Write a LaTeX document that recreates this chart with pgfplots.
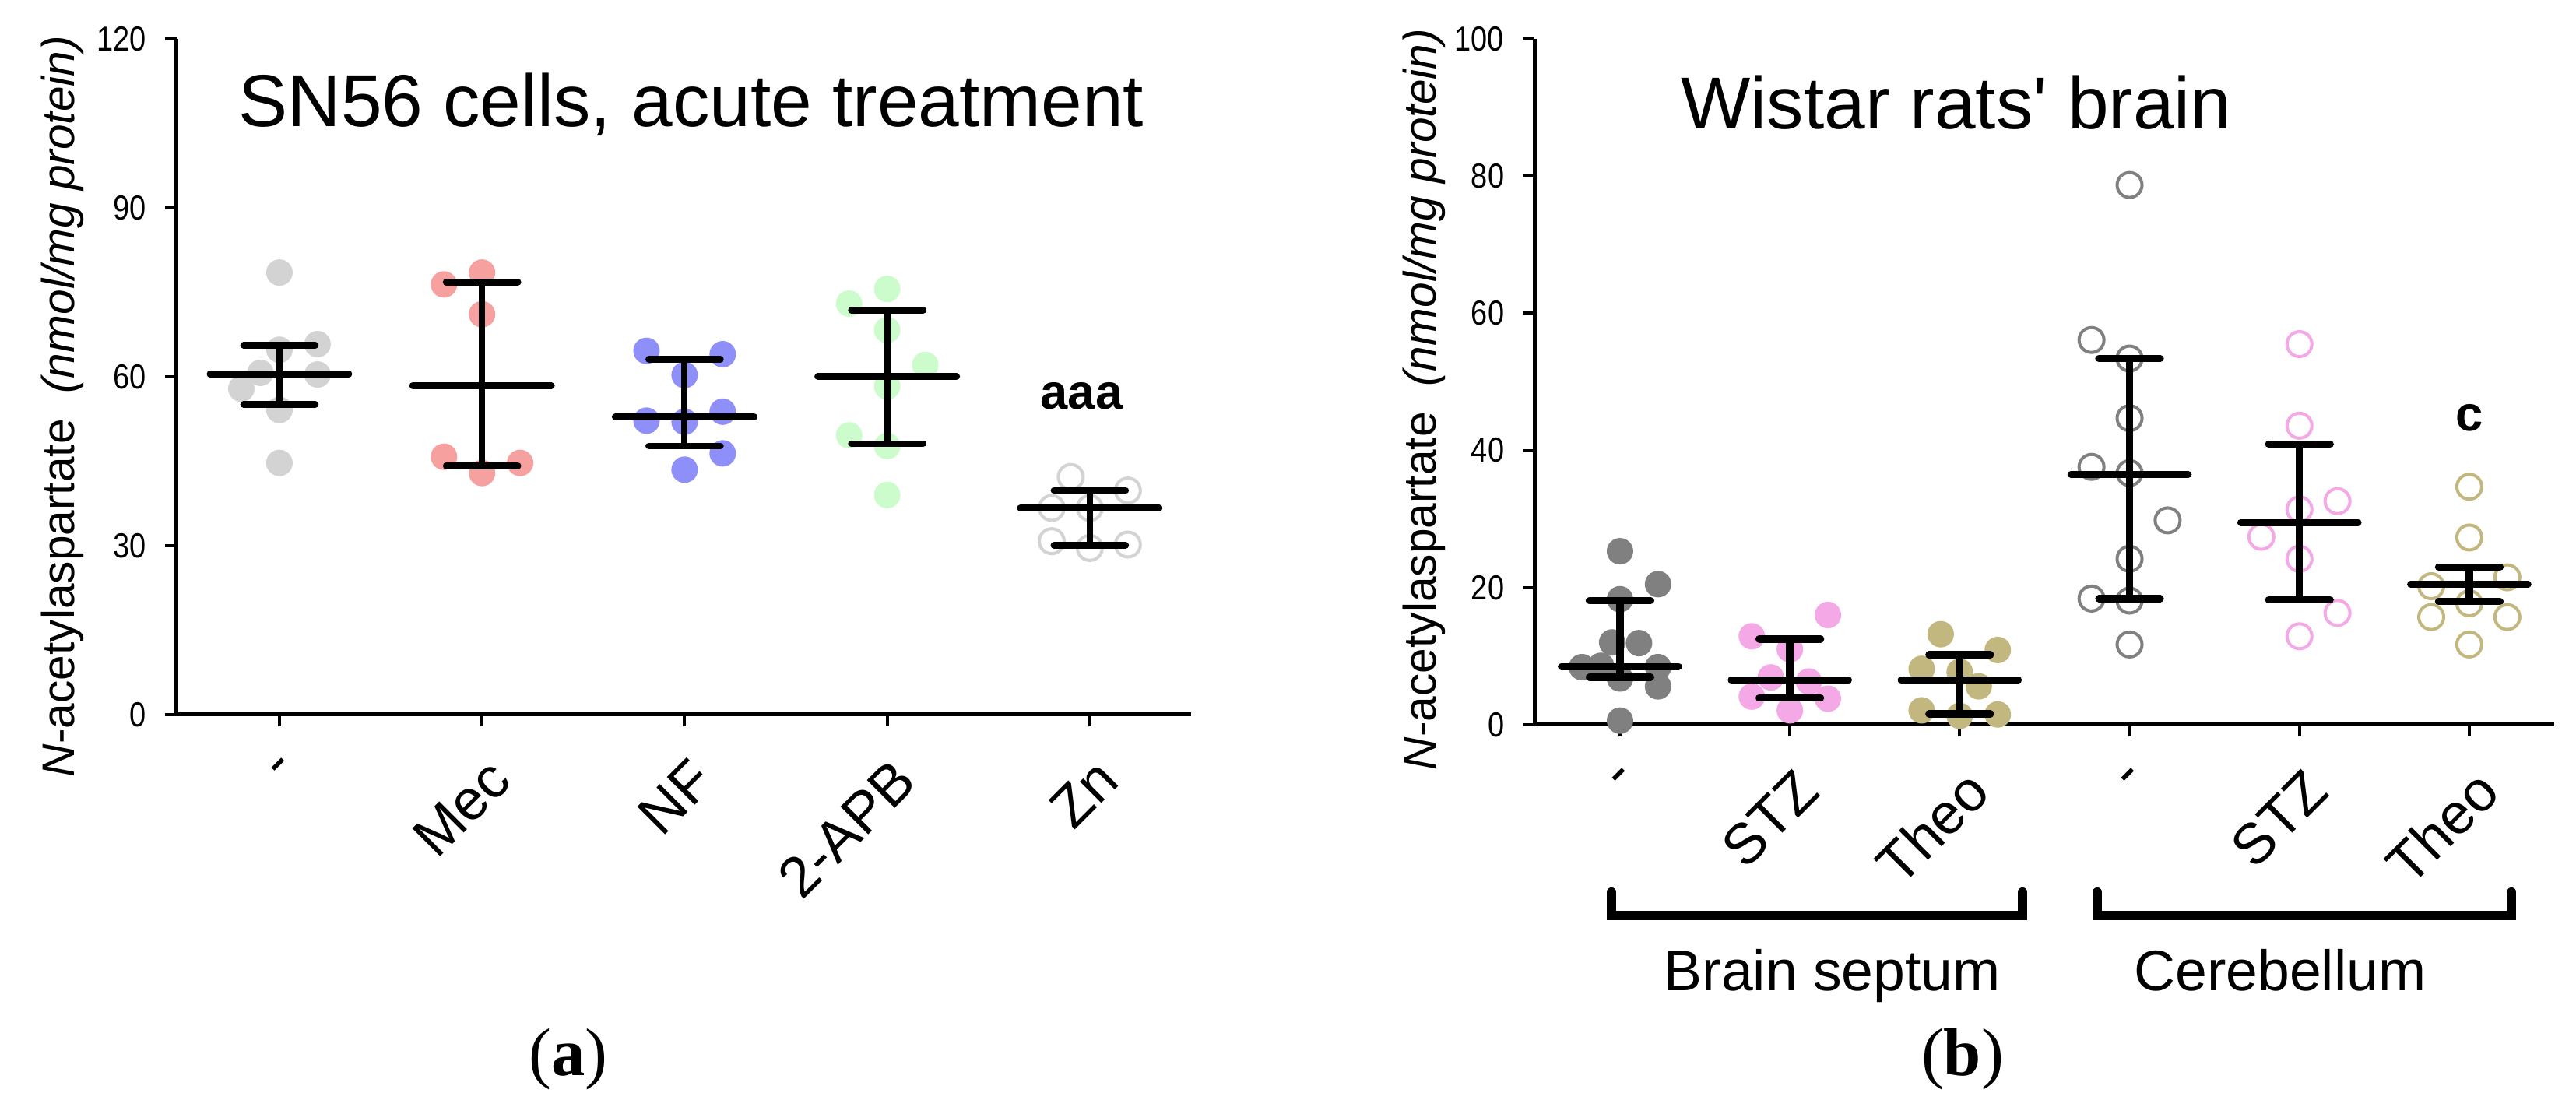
\documentclass[border=0pt]{standalone}
\usepackage{pgfplots}
\pgfplotsset{compat=1.18}
\usepackage{fontspec}
\usepackage{graphicx}
\setmainfont{Liberation Sans}
\newfontfamily\plainsans{Liberation Sans}
\newfontfamily\seriffont{Liberation Serif}

\definecolor{ctrlL}{RGB}{211,211,211}
\definecolor{mec}{RGB}{246,160,160}
\definecolor{nf}{RGB}{143,143,250}
\definecolor{apb}{RGB}{204,252,204}
\definecolor{zn}{RGB}{211,211,211}
\definecolor{ctrlR}{RGB}{128,128,128}
\definecolor{stz}{RGB}{245,168,230}
\definecolor{theo}{RGB}{194,183,127}

\pgfplotsset{
  prism/.style={
    scale only axis, clip=false, clip marker paths=true,
    axis x line=bottom, axis y line=left,
    axis line style={-, line width=0.75pt},
    every outer x axis line/.append style={-},
    every outer y axis line/.append style={-},
    tick align=outside, major tick length=2.3pt,
    tick style={line width=0.6pt, black},
    /pgf/number format/assume math mode=true,
    yticklabel style={font=\fontsize{6.7}{8}\selectfont},
    yticklabel={\scalebox{0.85}[1]{\pgfmathprintnumber{\tick}}},
    xticklabel style={font=\fontsize{11}{13}\selectfont, rotate=45, anchor=north east, yshift=-1pt},
  },
  filled/.style={only marks, mark=*, mark size=2.35pt, mark options={line width=0.4pt}},
  open/.style={only marks, mark=o, mark size=2.4pt, mark options={line width=0.6pt}},
  meanbar/.style={only marks, black, solid, mark=-, mark size=#1,
    mark options={solid, line width=1.35pt, line cap=round}},
}

\begin{document}
\begin{tikzpicture}
\useasboundingbox (0,0) rectangle (496.35pt,213.3pt);

% (a) SN56 cells
\begin{axis}[prism, at={(34.05pt,75.6pt)}, anchor=south west,
  width=195.45pt, height=130.2pt,
  xmin=0.493, xmax=5.5, ymin=0, ymax=120,
  ytick={0,30,60,90,120}, xtick={1,2,3,4,5},
  xticklabels={-,Mec,NF,2-APB,Zn}]
\addplot[filled, color=ctrlL] coordinates {
  (1,78.5)(1,64.8)(1.188,65.8)(0.906,60.7)(1.188,60.4)(0.812,57.9)(1,54.1)(1,44.7)};
\addplot[filled, color=mec] coordinates {
  (1.812,76.4)(2,78.5)(2,71.1)(1.812,45.8)(2.188,44.7)(2,42.9)};
\addplot[filled, color=nf] coordinates {
  (2.812,64.6)(3.188,64.0)(3,60.3)(2.812,52.2)(3,52.0)(3.188,53.8)(3.188,46.4)(3,43.5)};
\addplot[filled, color=apb] coordinates {
  (3.812,73.0)(4,75.6)(4,68.3)(4.188,62.1)(4,58.3)(3.812,49.6)(4,47.7)(4,39.0)};
\addplot[open, color=zn] coordinates {
  (4.906,42.2)(5.188,39.8)(4.812,36.7)(5,36.7)(4.812,30.8)(5,29.6)(5.188,30.2)};
% mean with error bars
\addplot[meanbar=13.35pt,
  error bars/.cd, y dir=both, y explicit,
  error bar style={solid, line width=1.2pt},
  error mark=|, error mark options={solid, mark size=6.9pt, line width=1.3pt, line cap=round}]
  table[x=g, y=m, y error plus=ep, y error minus=em] {
g m ep em
1 60.5 5.1 5.4
2 58.4 18.4 14.2
3 52.9 10.2 5.2
4 60.1 11.7 12.0
5 36.7 3.1 6.6
};
\node[anchor=base, font=\bfseries\fontsize{9.5}{11}\selectfont] at (axis cs:4.96,54.3) {aaa};
\end{axis}

% (b) Wistar rats
\begin{axis}[prism, at={(295.65pt,73.65pt)}, anchor=south west,
  width=196.5pt, height=132.15pt,
  xmin=0.496, xmax=6.5, ymin=0, ymax=100,
  ytick={0,20,40,60,80,100}, xtick={1,2,3,4,5,6},
  xticklabels={-,STZ,Theo,-,STZ,Theo}]
\addplot[filled, color=ctrlR] coordinates {
  (1,25.3)(1.224,20.5)(1,18.3)(0.954,12.0)(1.112,11.9)(0.776,8.4)(0.888,8.6)(1.224,8.4)(1,6.75)(1.224,5.6)(1,0.6)};
\addplot[filled, color=stz] coordinates {
  (2.224,16.0)(1.776,12.9)(2,11.0)(1.888,6.9)(2.112,6.3)(1.776,4.1)(2.224,3.8)(2,2.1)};
\addplot[filled, color=theo] coordinates {
  (2.888,13.2)(3.224,10.9)(2.776,8.15)(3,7.7)(3.112,5.6)(2.776,2.1)(3,1.3)(3.224,1.5)};
\addplot[open, color=ctrlR] coordinates {
  (4,78.7)(3.776,56.1)(4,53.4)(4,44.7)(3.776,37.6)(4,36.7)(4.224,29.8)(4,24.2)(3.776,18.4)(4,18.1)(4,11.7)};
\addplot[open, color=stz] coordinates {
  (5,55.5)(5,43.6)(5.224,32.6)(5,31.4)(4.776,27.4)(5,24.2)(5.224,16.3)(5,12.9)};
\addplot[open, color=theo] coordinates {
  (6,34.7)(6,27.3)(6.224,21.5)(5.776,20.2)(6,17.7)(5.776,15.7)(6.224,15.7)(6,11.7)};
\addplot[meanbar=11.3pt,
  error bars/.cd, y dir=both, y explicit,
  error bar style={solid, line width=1.4pt},
  error mark=|, error mark options={solid, mark size=5.9pt, line width=1.45pt, line cap=round}]
  table[x=g, y=m, y error plus=ep, y error minus=em] {
g m ep em
1 8.5 9.6 1.6
2 6.5 6.0 2.6
3 6.5 3.7 4.9
4 36.5 16.9 18.1
5 29.5 11.4 11.3
6 20.5 2.5 2.5
};
\node[anchor=base, font=\bfseries\fontsize{9.5}{11}\selectfont] at (axis cs:6.0,42.8) {c};
% group brackets
\draw[solid, line width=1.8pt, line cap=round, line join=miter]
  (axis cs:0.95,-24.4) -- (axis cs:0.95,-27.8) -- (axis cs:3.37,-27.8) -- (axis cs:3.37,-24.4);
\draw[solid, line width=1.8pt, line cap=round, line join=miter]
  (axis cs:3.81,-24.4) -- (axis cs:3.81,-27.8) -- (axis cs:6.25,-27.8) -- (axis cs:6.25,-24.4);
\node[anchor=base, font=\fontsize{11}{13}\selectfont] at (axis cs:2.25,-38.8) {Brain septum};
\node[anchor=base, font=\fontsize{11}{13}\selectfont] at (axis cs:4.886,-38.8) {Cerebellum};
\end{axis}

% titles and axis labels
\node[anchor=base, font=\fontsize{14.2}{16}\selectfont] at (133.2pt,188.85pt) {SN56 cells, acute treatment};
\node[anchor=base, font=\plainsans\fontsize{14.2}{16}\selectfont] at (376.95pt,188.4pt) {Wistar rats' brain};
\node[rotate=90, anchor=base, font=\fontsize{8.8}{10}\selectfont] at (14.25pt,135pt)
  {\textit{N}-acetylaspartate\ \ \textit{(nmol/mg protein)}};
\node[rotate=90, anchor=base, font=\fontsize{8.8}{10}\selectfont] at (276.6pt,136.35pt)
  {\textit{N}-acetylaspartate\ \ \textit{(nmol/mg protein)}};
\node[anchor=base, font=\seriffont\fontsize{13}{15}\selectfont] at (109.5pt,6.05pt) {(\textbf{a})};
\node[anchor=base, font=\seriffont\fontsize{13}{15}\selectfont] at (378.15pt,6.05pt) {(\textbf{b})};
\end{tikzpicture}
\end{document}
